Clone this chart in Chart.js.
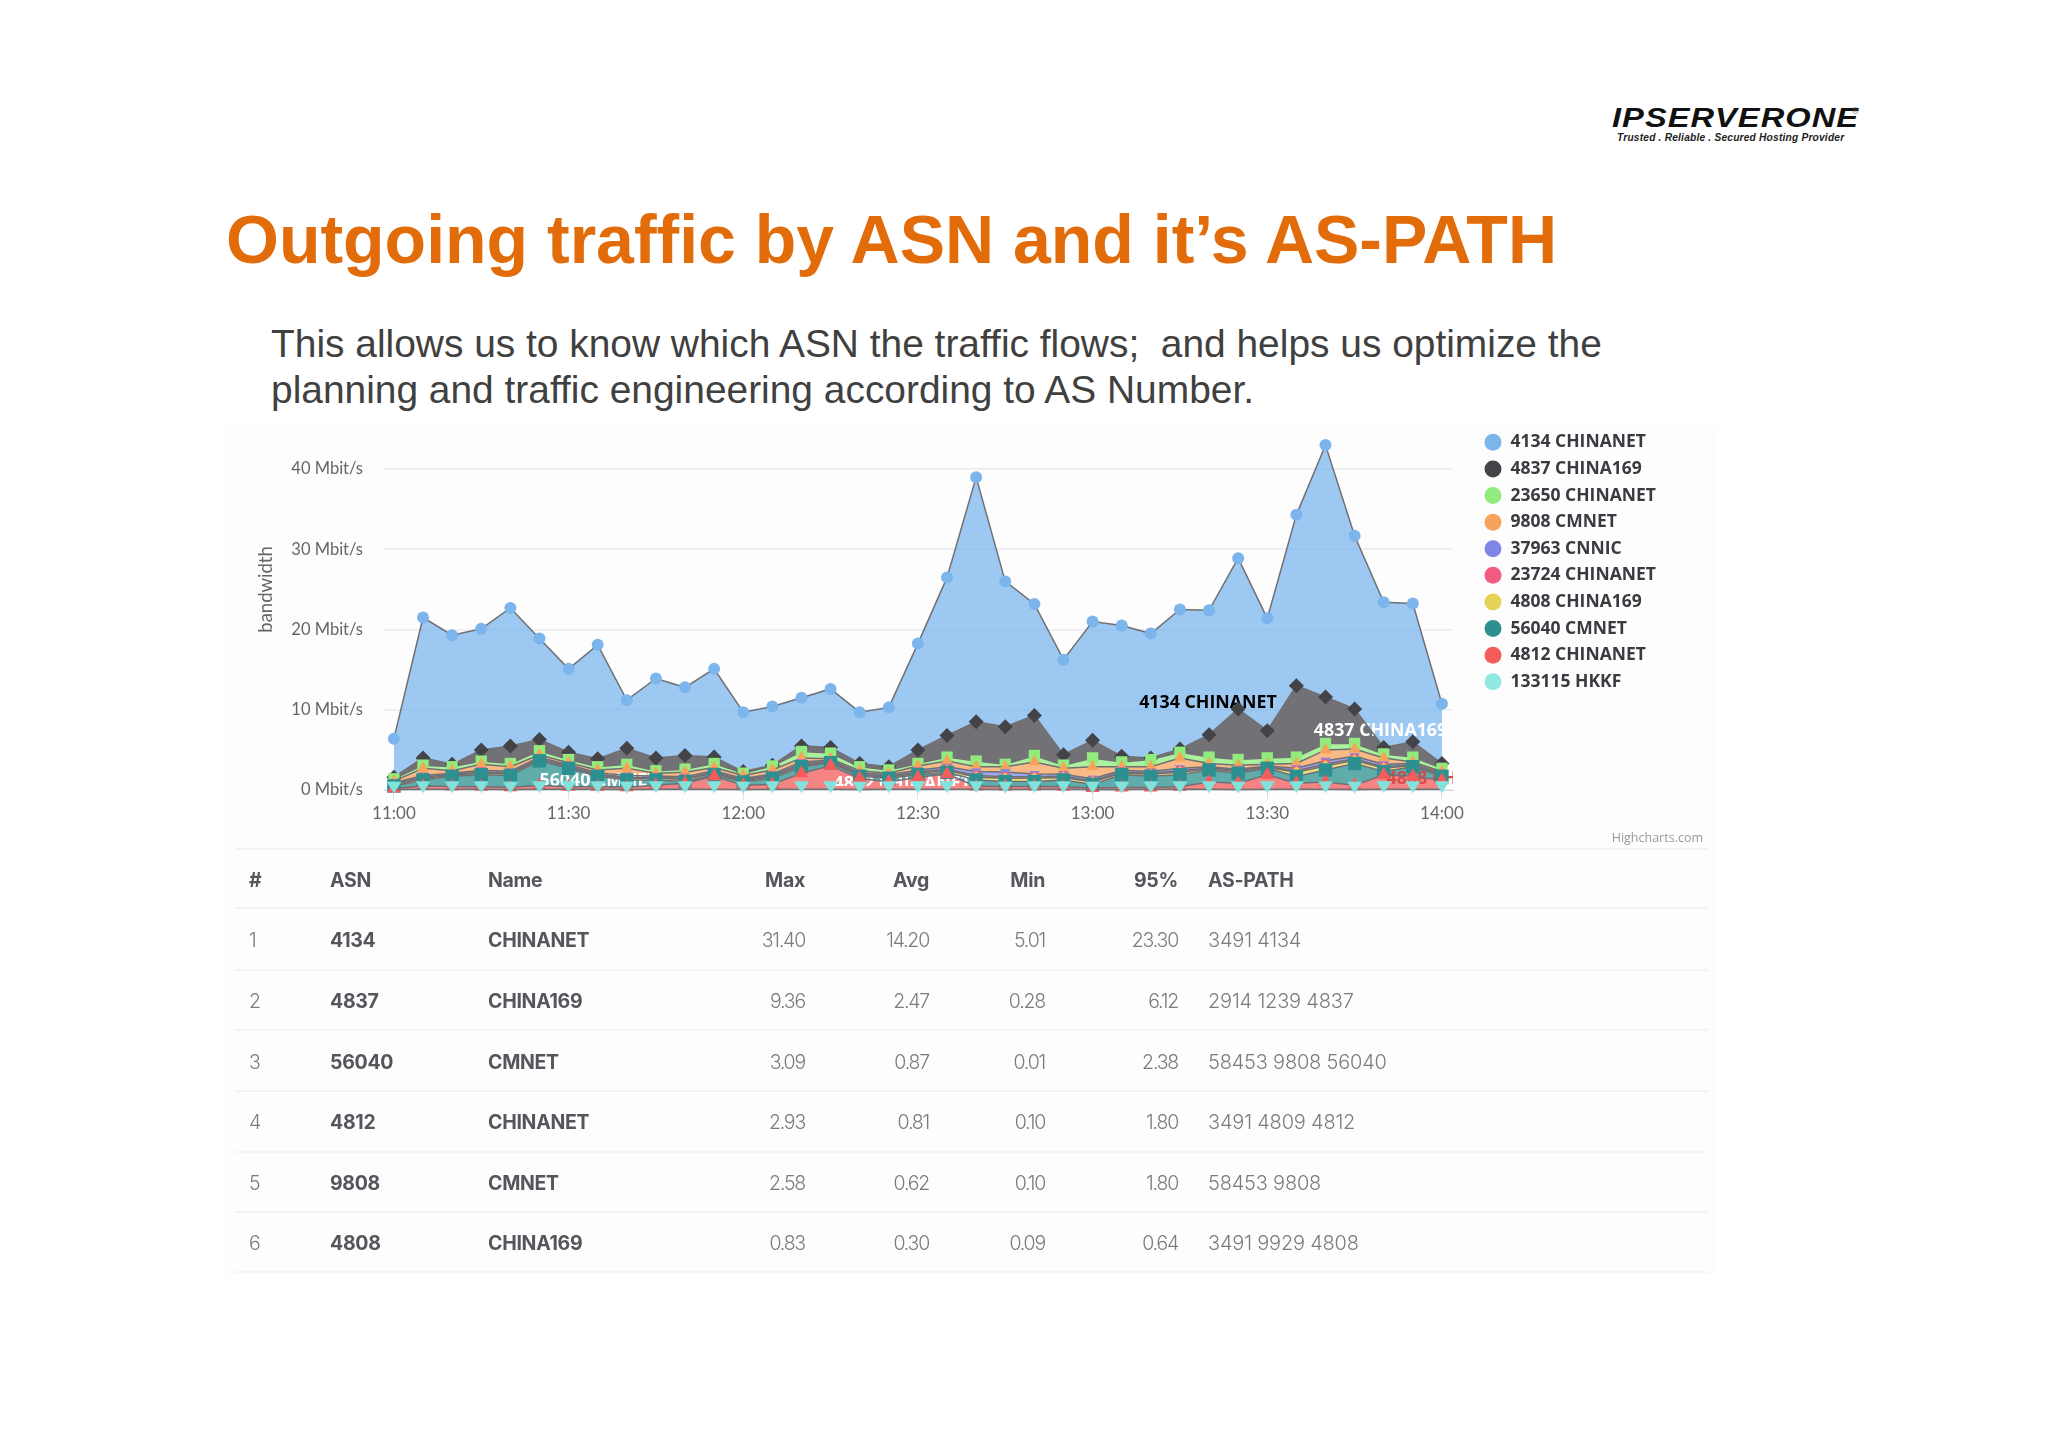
<!DOCTYPE html>
<html>
<head>
<meta charset="utf-8">
<title>Outgoing traffic by ASN</title>
<script src="https://cdn.jsdelivr.net/npm/chart.js@4"></script>
<style>
html, body { margin: 0; padding: 0; background: #fff; }
body { width: 2048px; height: 1447px; position: relative; overflow: hidden; font-family: "Liberation Sans", Arial, sans-serif; }
.abs { position: absolute; white-space: pre; }
#panel { position: absolute; left: 225px; top: 425px; width: 1490px; height: 850px; background: #fdfdfe; }
#title { left: 226px; top: 199px; font-size: 68px; line-height: 80px; font-weight: bold; color: #e36c0a; }
.sub { left: 271px; font-size: 38.9px; line-height: 46px; color: #404040; }
#logo { left: 1612px; top: 104px; font-size: 32px; line-height: 30px; font-weight: bold; font-style: italic; color: #111; letter-spacing: 1px; transform-origin: left top; transform: scale(1.02, .88); }
#tag { left: 1617px; top: 131px; font-size: 10.2px; line-height: 13px; font-weight: bold; font-style: italic; color: #222; letter-spacing: .2px; }
#reg { left: 1852px; top: 106px; font-size: 9px; line-height: 10px; color: #444; }
#hc { right: 345px; top: 829px; font: 12.5px "Open Sans", sans-serif; color: #999; }
canvas { position: absolute; left: 225px; top: 358px; filter: blur(.5px); }
#table { position: absolute; left: 0; top: 0; filter: blur(.35px); }
.rule { position: absolute; left: 235px; width: 1473px; height: 2px; background: #f4f4f6; }
.cell { position: absolute; white-space: pre; font-family: Inter, sans-serif; font-size: 19.5px; line-height: 24px; color: #7a7a80; font-weight: 300; letter-spacing: -1.2px; }
.cell.b { font-weight: 700; color: #55555c; letter-spacing: -.3px; }
.cell.r { text-align: right; width: 120px; }
.cell.p { letter-spacing: -.2px; font-size: 20px; }
</style>
</head>
<body>
<div id="panel"></div>
<div class="abs" id="logo">IPSERVERONE</div>
<div class="abs" id="reg">®</div>
<div class="abs" id="tag">Trusted . Reliable . Secured Hosting Provider</div>
<div class="abs" id="title">Outgoing traffic by ASN and it’s AS-PATH</div>
<div class="abs sub" style="top:321px">This allows us to know which ASN the traffic flows;  and helps us optimize the</div>
<div class="abs sub" style="top:367px">planning and traffic engineering according to AS Number.</div>
<canvas id="chart" width="1500" height="492"></canvas>
<div class="abs" id="hc">Highcharts.com</div>
<div id="table"></div>
<script>
var times = ["11:00","11:05","11:10","11:15","11:20","11:25","11:30","11:35","11:40","11:45","11:50","11:55",
    "12:00","12:05","12:10","12:15","12:20","12:25","12:30","12:35","12:40","12:45","12:50","12:55",
    "13:00","13:05","13:10","13:15","13:20","13:25","13:30","13:35","13:40","13:45","13:50","13:55","14:00"];
var tickLabels = ["11:00","11:30","12:00","12:30","13:00","13:30","14:00"];
var yTicks = [0, 10, 20, 30, 40];

// Mbit/s per series
var chinanet4134 = [4.8,17.5,16.1,15.1,17.2,12.6,10.4,14.2,6.0,9.9,8.5,11.0,7.4,7.3,6.0,7.3,6.4,7.4,13.25,19.7,30.5,18.1,13.9,11.85,14.8,16.3,15.5,17.4,15.5,18.8,14.0,21.3,31.4,21.6,18.1,17.25,7.45];
var china4837 = [.2,.9,.3,1.4,2.2,1.4,.9,1.0,2.0,1.6,1.7,.8,.2,.1,.7,.7,.4,.4,1.7,2.7,4.9,4.7,5.0,1.3,2.2,.7,.2,.4,2.8,6.3,3.4,8.9,5.8,4.3,.8,1.9,.6];
var chinanet23650 = [.3,.4,.5,.4,.4,.5,.4,.4,.5,.3,.4,.5,.3,.5,.8,.7,.5,.4,.3,.5,.7,.3,.8,.4,1.1,.6,.9,.7,.8,.7,.8,.8,.8,.7,.5,.6,.4];
var cmnet9808 = [.2,.9,.3,.75,.55,.3,.25,.35,.9,.35,.55,.4,.35,.5,.5,.15,.25,.2,.55,.7,.6,.65,1.5,.75,1.5,.45,.6,1.3,.4,.5,.2,.6,1.35,.9,.8,.2,.2];
var cnnic37963 = [.15,.2,.15,.2,.2,.2,.2,.2,.2,.2,.2,.2,.2,.2,.25,.15,.2,.2,.2,.3,.5,.6,.35,.25,.25,.2,.2,.3,.15,.15,.1,.3,.4,.3,.3,.15,.15];
var chinanet23724 = [.1,.15,.1,.15,.15,.1,.1,.1,.15,.1,.15,.1,.1,.15,.15,.1,.1,.1,.15,.15,.2,.2,.2,.15,.15,.15,.15,.2,.1,.15,.1,.2,.25,.2,.2,.1,.1];
var china4808 = [.15,.2,.15,.2,.2,.15,.15,.15,.2,.2,.25,.2,.15,.2,.2,.1,.15,.15,.2,.25,.35,.4,.4,.3,.3,.2,.25,.3,.15,.2,.1,.5,.5,.4,.4,.15,.15];
var cmnet56040 = [.3,.75,1.25,1.5,1.45,3.09,2.3,1.3,.9,.65,.2,.2,.4,.75,.8,.37,.25,.45,.3,.2,.8,.6,.6,.85,.45,1.6,1.4,1.5,1.5,1.25,.8,.85,1.5,2.7,.4,1.2,.5];
var chinanet4812 = [.15,.4,.35,.3,.3,.45,.3,.3,.3,.5,.75,1.6,.55,.6,2.0,2.93,1.4,.9,1.5,1.9,.35,.4,.35,.3,.2,.25,.2,.3,.9,.8,1.8,.75,.9,.55,1.8,1.6,1.1];
var hkkf133115 = [.05,.1,.1,.1,.05,.1,.1,.1,.05,.1,.1,.1,.05,.1,.1,.1,.05,.1,.1,.1,.1,.05,.1,.1,.05,.05,.1,.1,.1,.05,.1,.1,.1,.05,.1,.1,.1];

var tableHead = ["#","ASN","Name","Max","Avg","Min","95%","AS-PATH"];
var tableRows = [
    ["1","4134","CHINANET","31.40","14.20","5.01","23.30","3491 4134"],
    ["2","4837","CHINA169","9.36","2.47","0.28","6.12","2914 1239 4837"],
    ["3","56040","CMNET","3.09","0.87","0.01","2.38","58453 9808 56040"],
    ["4","4812","CHINANET","2.93","0.81","0.10","1.80","3491 4809 4812"],
    ["5","9808","CMNET","2.58","0.62","0.10","1.80","58453 9808"],
    ["6","4808","CHINA169","0.83","0.30","0.09","0.64","3491 9929 4808"]
];

var minutes = times.map(function (t) {
    var p = t.split(":");
    return (p[0] - 11) * 60 + (+p[1]);
});

function hexA(hex, a) {
    var n = parseInt(hex.slice(1), 16);
    return "rgba(" + (n >> 16) + "," + ((n >> 8) & 255) + "," + (n & 255) + "," + a + ")";
}

// downward triangle sitting a little above its point, as the reference draws it
function triangleDown(color) {
    var m = document.createElement("canvas");
    m.width = 18;
    m.height = 22;
    var c = m.getContext("2d");
    c.fillStyle = color;
    c.beginPath();
    c.moveTo(1.5, 3);
    c.lineTo(16.5, 3);
    c.lineTo(9, 15);
    c.closePath();
    c.fill();
    return m;
}

function serie(label, data, color, style, radius, rotation) {
    return {
        label: label,
        data: data,
        fill: "stack",
        tension: 0,
        borderColor: "#707074",
        borderWidth: 1.5,
        backgroundColor: hexA(color, 0.75),
        pointBackgroundColor: color,
        pointBorderColor: color,
        pointBorderWidth: 0,
        pointStyle: style,
        pointRadius: radius,
        pointRotation: rotation || 0,
        clip: false
    };
}

// first dataset is the bottom of the stack and is painted last
var datasets = [
    serie("133115 HKKF", hkkf133115, "#91e8e1", triangleDown("#80e4dc"), 7),
    serie("4812 CHINANET", chinanet4812, "#f45b5b", "triangle", 8),
    serie("56040 CMNET", cmnet56040, "#2b908f", "rect", 9.5),
    serie("4808 CHINA169", china4808, "#e4d354", "rectRot", 6),
    serie("23724 CHINANET", chinanet23724, "#f15c80", "circle", 5),
    serie("37963 CNNIC", cnnic37963, "#8085e9", "triangle", 6, 180),
    serie("9808 CMNET", cmnet9808, "#f7a35c", "triangle", 7),
    serie("23650 CHINANET", chinanet23650, "#90ed7d", "rect", 8),
    serie("4837 CHINA169", china4837, "#434348", "rectRot", 7.5),
    serie("4134 CHINANET", chinanet4134, "#7cb5ec", "circle", 6)
];

// series labels: text, minute, Mbit/s, colour, last visible minute
var seriesLabels = [
    ["4134 CHINANET", 128, 10.9, "#000", 181.9],
    ["4837 CHINA169", 158, 7.4, "#fff", 180],
    ["56040 CMNET", 25, 1.1, "#fff", 181.9],
    ["4812 CHINANET", 75.5, 0.75, "#fff", 181.9],
    ["4808 CHINA169", 170.5, 1.4, "#d84a4a", 181.9]
];

var fixLayout = {
    id: "fixLayout",
    beforeLayout: function (chart) {
        var lg = chart.legend;
        if (!lg.fitPatched) {
            var fit = lg.fit;
            lg.fit = function () {
                fit.call(this);
                this.width = 272;
            };
            lg.fitPatched = true;
        }
    },
    afterLayout: function (chart) {
        chart.legend.left = 1250.15;
        chart.legend.top = 66.5;
    },
    beforeDatasetsDraw: function (chart) {
        var c = chart.ctx, a = chart.chartArea, sx = chart.scales.x, sy = chart.scales.y;
        c.font = "bold 17.8px 'Open Sans'";
        c.textBaseline = "middle";
        seriesLabels.forEach(function (l) {
            c.save();
            c.beginPath();
            c.rect(a.left, a.top, sx.getPixelForValue(l[4]) - a.left, a.bottom - a.top - 4);
            c.clip();
            c.fillStyle = l[3];
            c.fillText(l[0], sx.getPixelForValue(l[1]), sy.getPixelForValue(l[2]));
            c.restore();
        });
    }
};

new Chart(document.getElementById("chart"), {
    type: "line",
    data: { labels: minutes, datasets: datasets },
    plugins: [fixLayout],
    options: {
        responsive: false,
        animation: false,
        devicePixelRatio: 1,
        events: [],
        layout: { padding: { top: 10, left: 0, right: 0, bottom: 0 } },
        scales: {
            x: {
                type: "linear",
                min: -1.7,
                max: 181.9,
                afterBuildTicks: function (s) {
                    s.ticks = tickLabels.map(function (t) { return { value: minutes[times.indexOf(t)] }; });
                },
                afterFit: function (s) { s.height = 60; },
                ticks: {
                    autoSkip: false,
                    maxRotation: 0,
                    padding: 3,
                    color: "#666",
                    font: { family: "Lato", size: 17 },
                    callback: function (v) { return times[minutes.indexOf(v)]; }
                },
                grid: { drawOnChartArea: false, tickLength: 10, color: "#dfe3ea" },
                border: { color: "#d4d6de" }
            },
            y: {
                stacked: true,
                min: 0,
                max: 50,
                afterBuildTicks: function (s) {
                    s.ticks = yTicks.map(function (v) { return { value: v }; });
                },
                afterFit: function (s) { s.width = 159; },
                ticks: {
                    padding: 21,
                    color: "#666",
                    font: { family: "Lato", size: 16.5 },
                    callback: function (v) { return v + " Mbit/s"; }
                },
                grid: { drawTicks: false, color: "#eeeef3", lineWidth: 2 },
                border: { display: false },
                title: {
                    display: true,
                    text: "bandwidth",
                    color: "#666",
                    padding: { top: 30, bottom: 0 },
                    font: { family: "Lato", size: 18.5 }
                }
            }
        },
        plugins: {
            filler: { drawTime: "beforeDatasetsDraw" },
            tooltip: { enabled: false },
            legend: {
                position: "right",
                align: "start",
                reverse: true,
                labels: {
                    usePointStyle: true,
                    pointStyle: "circle",
                    boxHeight: 12,
                    padding: 9.1,
                    color: "#3a3a40",
                    font: { family: "Open Sans", size: 17.5, weight: "bold", lineHeight: 1.2 }
                }
            }
        }
    }
});

// table below the chart
var table = document.getElementById("table");
var colX = [249, 330, 488, 685, 809, 925, 1058, 1208];
var colRight = [false, false, false, true, true, true, true, false];
var rowY = [880, 940, 1001, 1062, 1122, 1183, 1243];
var ruleY = [848, 907, 969, 1029, 1090, 1151, 1211, 1271];

function addCell(text, x, y, cls) {
    var d = document.createElement("div");
    d.className = "cell " + cls;
    d.style.left = x + "px";
    d.style.top = (y - 12) + "px";
    d.textContent = text;
    table.appendChild(d);
}
ruleY.forEach(function (y) {
    var r = document.createElement("div");
    r.className = "rule";
    r.style.top = y + "px";
    table.appendChild(r);
});
tableHead.forEach(function (h, i) {
    addCell(h, colX[i], rowY[0], "b" + (colRight[i] ? " r" : ""));
});
tableRows.forEach(function (row, r) {
    row.forEach(function (v, i) {
        var cls = i == 1 || i == 2 ? "b" : i == 7 ? "p" : colRight[i] ? "r" : "";
        addCell(v, colX[i], rowY[r + 1], cls);
    });
});
</script>
</body>
</html>
